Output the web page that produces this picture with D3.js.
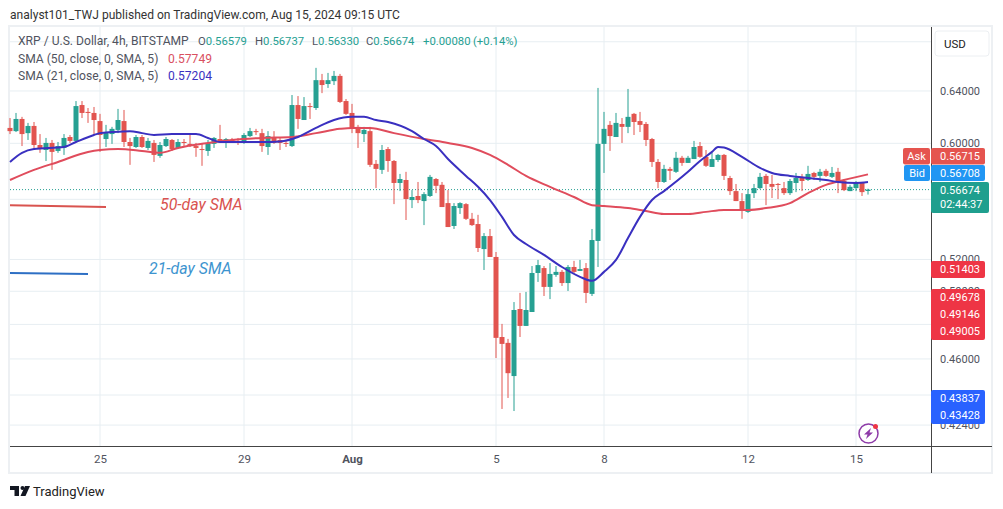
<!DOCTYPE html>
<html>
<head>
<meta charset="utf-8">
<title>XRP / U.S. Dollar</title>
<script src="https://cdn.jsdelivr.net/npm/d3@7"></script>
<style>
  html, body { margin: 0; background: #fff; }
  svg { display: block; }
  text { font-family: Roboto, "Liberation Sans", sans-serif; }
</style>
</head>
<body>
<div id="chart"></div>
<script>
// 4h candles, one every 4 hours from START
const START = new Date(Date.UTC(2024, 6, 22, 12));
const OPEN = [
  .6115,.6091,.6183,.6076,.6130,.5988,.5951,.6003,.5944,.5966,.6047,.6018,.6290,.6237,.6229,.6167,.6032,.6069,.6100,.6167,.6010,.5973,.6047,.5966,
  .6003,.5908,.5980,.6025,.5966,.6010,.5996,.5980,.5958,.5944,.5996,.6032,.6025,.6025,.6018,.6003,.6054,.6091,.6076,.5973,.6047,.6025,.6003,.5980,
  .6290,.6175,.6282,.6267,.6486,.6455,.6478,.6520,.6321,.6229,.6123,.6069,.6091,.5850,.5807,.5958,.5871,.5714,.5735,.5595,.5623,.5588,.5623,.5742,
  .5701,.5574,.5419,.5540,.5567,.5467,.5432,.5267,.5352,.5216,.4726,.4692,.4504,.4892,.4791,.4874,.5114,.5145,.5027,.5102,.5121,.5051,.5152,.5127,
  .5145,.4984,.5320,.5996,.6138,.6047,.6145,.6123,.6222,.6167,.6145,.6032,.5864,.5721,.5814,.5793,.5894,.5857,.5885,.5980,.5901,.5828,.5878,.5915,
  .5749,.5657,.5588,.5514,.5643,.5678,.5764,.5707,.5707,.5678,.5643,.5714,.5757,.5735,.5785,.5764,.5800,.5757,.5793,.5728,.5657,.5678,.5721,.56579
];
const HIGH = [
  .6190,.6229,.6199,.6153,.6160,.6069,.6040,.6025,.6010,.6069,.6062,.6321,.6321,.6267,.6275,.6222,.6138,.6123,.6260,.6252,.6040,.6062,.6062,.6040,
  .6025,.6010,.6047,.6032,.6032,.6032,.6062,.6003,.5996,.6025,.6047,.6138,.6040,.6040,.6040,.6076,.6115,.6108,.6108,.6091,.6091,.6040,.6025,.6368,
  .6360,.6352,.6306,.6585,.6536,.6544,.6560,.6536,.6337,.6299,.6138,.6123,.6123,.5878,.5988,.5973,.5878,.5778,.5793,.5664,.5721,.5650,.5771,.5749,
  .5721,.5664,.5574,.5580,.5574,.5507,.5494,.5372,.5399,.5248,.4803,.4715,.4934,.4990,.4996,.5158,.5197,.5158,.5177,.5158,.5133,.5164,.5191,.5197,
  .5177,.5399,.6424,.6237,.6167,.6229,.6190,.6416,.6229,.6237,.6160,.6040,.5885,.5843,.5828,.5937,.5908,.5908,.6018,.6010,.5951,.5930,.5922,.5922,
  .5764,.5707,.5643,.5671,.5707,.5785,.5778,.5771,.5714,.5721,.5742,.5785,.5778,.5836,.5793,.5814,.5814,.5828,.5821,.5742,.5701,.5728,.5721,.56737
];
const LOW = [
  .6069,.6084,.5980,.6025,.5966,.5930,.5871,.5807,.5930,.5915,.6003,.6010,.6190,.6153,.6062,.5937,.5973,.5996,.6076,.5973,.5843,.5966,.5966,.5951,
  .5864,.5894,.5973,.5944,.5958,.5973,.5973,.5901,.5836,.5908,.5966,.6010,.5966,.6003,.5988,.5996,.6047,.6062,.5937,.5915,.5996,.5951,.5973,.5973,
  .6108,.6175,.6183,.6252,.6383,.6424,.6447,.6306,.6214,.6076,.5966,.6010,.5828,.5678,.5778,.5793,.5567,.5657,.5459,.5540,.5574,.5425,.5616,.5643,
  .5547,.5412,.5399,.5500,.5459,.5419,.5248,.5133,.5216,.4605,.4325,.4384,.4314,.4726,.4791,.4874,.5058,.4971,.4952,.5090,.5033,.5002,.5114,.5127,
  .4928,.4971,.5152,.5785,.5944,.6047,.6003,.6076,.6062,.6084,.5980,.5828,.5678,.5714,.5735,.5785,.5836,.5857,.5885,.5894,.5828,.5828,.5864,.5735,
  .5630,.5588,.5467,.5507,.5609,.5671,.5560,.5609,.5602,.5630,.5630,.5650,.5657,.5728,.5735,.5721,.5757,.5749,.5643,.5657,.5657,.5657,.5623,.56330
];
const CLOSE = [
  .6091,.6183,.6069,.6130,.5988,.5958,.6003,.5937,.5980,.6040,.6018,.6282,.6229,.6229,.6175,.6062,.6084,.6108,.6175,.6010,.5980,.6047,.5973,.6018,
  .5915,.5988,.6032,.5958,.6010,.6003,.5988,.5966,.5951,.6003,.6040,.6010,.6032,.6018,.6010,.6062,.6091,.6084,.5980,.6054,.6003,.6003,.5996,.6290,
  .6183,.6282,.6275,.6486,.6447,.6486,.6520,.6314,.6222,.6115,.6076,.6100,.5843,.5814,.5951,.5871,.5714,.5742,.5602,.5616,.5595,.5636,.5757,.5694,
  .5547,.5412,.5554,.5574,.5467,.5425,.5274,.5352,.5216,.4721,.4686,.4520,.4886,.4791,.4886,.5114,.5164,.5027,.5108,.5121,.5051,.5152,.5121,.5139,
  .4990,.5326,.5996,.6108,.6054,.6153,.6123,.6199,.6160,.6138,.6025,.5864,.5721,.5814,.5800,.5894,.5857,.5894,.5973,.5901,.5836,.5885,.5915,.5764,
  .5657,.5588,.5520,.5636,.5678,.5757,.5707,.5687,.5701,.5643,.5728,.5749,.5728,.5778,.5757,.5793,.5764,.5785,.5721,.5664,.5687,.5721,.5650,.56674
];

// moving averages, read at these candle numbers
const SMA21_AT = [0,2,4,9,11,14,15,17,20,22,24,27,31,33,35,39,42,45,48,51,54,57,59,61,63,67,69,71,73,76,78,80,82,84,86,89,92,95,97,99,101,103,105,107,109,113,115,117,118,119,122,125,127,130,133,136,138,141,143];
const SMA21 = [.5864,.5930,.5958,.5973,.6010,.6062,.6076,.6084,.6091,.6076,.6062,.6069,.6069,.6040,.6010,.6010,.6010,.6014,.6047,.6115,.6175,.6199,.6199,.6175,.6160,.6091,.6032,.5980,.5885,.5764,.5687,.5595,.5480,.5359,.5300,.5229,.5152,.5090,.5065,.5121,.5197,.5339,.5480,.5595,.5657,.5793,.5871,.5937,.5973,.5969,.5901,.5821,.5785,.5764,.5749,.5735,.5721,.5714,.57204];
const SMA50_AT = [0,4,8,13,15,18,22,25,28,33,37,42,47,51,55,57,60,64,69,73,77,80,83,86,90,94,97,99,103,106,109,113,116,119,123,126,130,133,136,139,143];
const SMA50 = [.5735,.5807,.5864,.5937,.5951,.5958,.5944,.5930,.5966,.6003,.6025,.6040,.6047,.6076,.6108,.6115,.6115,.6076,.6032,.6003,.5966,.5915,.5843,.5764,.5687,.5616,.5560,.5554,.5540,.5520,.5500,.5500,.5514,.5527,.5527,.5540,.5574,.5643,.5701,.5735,.57749];

// the hand drawn key lines
const KEY50_AT = [0, 16], KEY50 = [.5560, .5547];
const KEY21_AT = [0, 13], KEY21 = [.5114, .5108];

const PRICE_TICKS = [.68, .64, .60, .56, .52, .50, .48, .46, .44, .424];
// the other tick labels sit fully behind the tags and the USD button
const PRICE_LABELS = [.64, .60, .52, .50, .46, .424];
const DATE_TICKS = [[2024,6,25,"25"],[2024,6,29,"29"],[2024,7,1,"Aug"],[2024,7,5,"5"],[2024,7,8,"8"],[2024,7,12,"12"],[2024,7,15,"15"]];

const ASK = "0.56715", BID = "0.56708", LAST = .56674, COUNTDOWN = "02:44:37";
const RED_TAGS = ["0.49678", "0.49146", "0.49005"];
const BLUE_TAGS = ["0.43837", "0.43428"];

const W = 1003, H = 509;
const TEAL = "#26a092", RED = "#e2544f", GRID = "#e7eef2", AXIS = "#444", INK = "#50535e";
const pane = { l: 10, r: 931, t: 27, b: 446 };

const svg = d3.select("#chart").append("svg").attr("width", W).attr("height", H);

const x = d3.scaleUtc()
  .domain([START, new Date(Date.UTC(2024, 7, 17, 2))])
  .range([pane.l, pane.r]);
const y = d3.scaleLog().domain([.4132, .6925]).range([pane.b, pane.t]);
const timeOf = i => d3.utcHour.offset(START, i * 4);
const tickDates = DATE_TICKS.map(d => new Date(Date.UTC(d[0], d[1], d[2])));

// outer frame
svg.append("rect").attr("x", 9).attr("y", 26).attr("width", 983).attr("height", 447)
  .attr("fill", "#fff").attr("stroke", "#edf0f3").attr("stroke-width", 2);

// grid
svg.append("g").selectAll("line").data(PRICE_TICKS).join("line")
  .attr("x1", pane.l).attr("x2", pane.r).attr("y1", d => y(d)).attr("y2", d => y(d))
  .attr("stroke", GRID);
svg.append("g").selectAll("line").data(tickDates).join("line")
  .attr("x1", d => x(d)).attr("x2", d => x(d)).attr("y1", pane.t).attr("y2", pane.b)
  .attr("stroke", GRID);

// axes
const yAxis = svg.append("g").attr("transform", `translate(${pane.r},0)`)
  .call(d3.axisRight(y).tickValues(PRICE_LABELS).tickFormat(d3.format(".5f")).tickSize(0).tickPadding(9));
yAxis.select(".domain").remove();
yAxis.selectAll("text").attr("font-size", 11).attr("font-family", "Roboto").attr("fill", INK);

const xAxis = svg.append("g").attr("transform", `translate(0,${pane.b})`)
  .call(d3.axisBottom(x).tickValues(tickDates).tickFormat((d, i) => DATE_TICKS[i][3]).tickSize(0).tickPadding(9));
xAxis.select(".domain").remove();
xAxis.selectAll("text").attr("font-size", 11.5).attr("font-family", "Roboto").attr("fill", INK)
  .attr("font-weight", (d, i) => DATE_TICKS[i][3] === "Aug" ? 700 : 400);

svg.append("line").attr("x1", pane.l).attr("x2", 992).attr("y1", pane.b + .5).attr("y2", pane.b + .5).attr("stroke", AXIS);
svg.append("line").attr("x1", pane.r + .5).attr("x2", pane.r + .5).attr("y1", pane.t).attr("y2", 473).attr("stroke", AXIS);

// last price line
svg.append("line").attr("x1", pane.l).attr("x2", pane.r)
  .attr("y1", y(LAST)).attr("y2", y(LAST))
  .attr("stroke", TEAL).attr("stroke-dasharray", "1 2");

// candles
const candles = svg.append("g").selectAll("g").data(OPEN).join("g")
  .attr("transform", (d, i) => `translate(${x(timeOf(i))},0)`);
candles.append("line")
  .attr("y1", (d, i) => y(HIGH[i])).attr("y2", (d, i) => y(LOW[i]))
  .attr("stroke", (d, i) => CLOSE[i] >= d ? TEAL : RED);
candles.append("rect").attr("x", -2.5).attr("width", 5)
  .attr("y", (d, i) => y(Math.max(d, CLOSE[i])))
  .attr("height", (d, i) => Math.max(1, Math.abs(y(d) - y(CLOSE[i]))))
  .attr("fill", (d, i) => CLOSE[i] >= d ? TEAL : RED);

// moving averages
const smaLine = at => d3.line().x((d, i) => x(timeOf(at[i]))).y(d => y(d)).curve(d3.curveMonotoneX);
svg.append("path").attr("d", smaLine(SMA50_AT)(SMA50)).attr("fill", "none").attr("stroke", "#e04c5c").attr("stroke-width", 2);
svg.append("path").attr("d", smaLine(SMA21_AT)(SMA21)).attr("fill", "none").attr("stroke", "#3a30c0").attr("stroke-width", 2);

// key lines and their hand written labels
svg.append("path").attr("d", smaLine(KEY50_AT)(KEY50)).attr("fill", "none").attr("stroke", "#d9534f").attr("stroke-width", 2);
svg.append("path").attr("d", smaLine(KEY21_AT)(KEY21)).attr("fill", "none").attr("stroke", "#2d6fc4").attr("stroke-width", 2);
svg.append("text").attr("x", 160).attr("y", 210).attr("font-size", 15.9).attr("font-style", "italic")
  .attr("fill", "#d9534f").text("50-day SMA");
svg.append("text").attr("x", 149).attr("y", 274).attr("font-size", 15.9).attr("font-style", "italic")
  .attr("fill", "#3d94cf").text("21-day SMA");

// top line
svg.append("text").attr("x", 10).attr("y", 19).attr("font-size", 12.05).attr("fill", "#333")
  .text("analyst101_TWJ published on TradingView.com, Aug 15, 2024 09:15 UTC");

// legend
const legend = svg.append("g").attr("font-size", 12.1).attr("fill", INK);
legend.append("text").attr("x", 18).attr("y", 45).text("XRP / U.S. Dollar, 4h, BITSTAMP");
[[198, "O", "0.56579"], [255, "H", "0.56737"], [312, "L", "0.56330"], [366, "C", "0.56674"], [423, "", "+0.00080"], [473, "", "(+0.14%)"]]
  .forEach(d => {
    const t = legend.append("text").attr("x", d[0]).attr("y", 45).attr("font-size", 11.3).text(d[1]);
    t.append("tspan").attr("fill", TEAL).text(d[2]);
  });
const smaLegend = (label, value, color, yPos) => {
  legend.append("text").attr("x", 18).attr("y", yPos).text(label);
  legend.append("text").attr("x", 168).attr("y", yPos).attr("fill", color).text(value);
};
smaLegend("SMA (50, close, 0, SMA, 5)", "0.57749", "#d9505f", 63);
smaLegend("SMA (21, close, 0, SMA, 5)", "0.57204", "#3a30c0", 80);

// currency button
svg.append("rect").attr("x", 935).attr("y", 31).attr("width", 54).attr("height", 25).attr("rx", 3)
  .attr("fill", "#fff").attr("stroke", "#eceff2");
svg.append("text").attr("x", 944).attr("y", 48).attr("font-size", 11.5).attr("fill", "#222").text("USD");

// price tags on the scale
function tag(x0, x1, y0, y1, fill) {
  svg.append("rect").attr("x", x0).attr("y", y0).attr("width", x1 - x0).attr("height", y1 - y0)
    .attr("rx", 2).attr("fill", fill);
}
function tagText(xp, yp, s, anchor) {
  svg.append("text").attr("x", xp).attr("y", yp).attr("dy", ".35em").attr("text-anchor", anchor || "start")
    .attr("font-size", 11).attr("fill", "#fff").text(s);
}
tag(903, 930, 148, 164.5, "#e5544f"); tagText(916.5, 156.5, "Ask", "middle");
tag(904, 930, 165, 181, "#2196f3"); tagText(917, 173, "Bid", "middle");
tag(931, 985, 148, 164.5, "#e5544f"); tagText(940, 156.5, ASK);
tag(931, 985, 165, 181, "#2196f3"); tagText(940, 173, BID);
tag(931, 989, 182, 213, "#1f9f8e"); tagText(940, 190.5, d3.format(".5f")(LAST)); tagText(940, 204, COUNTDOWN);
tag(931, 985, 261, 278, "#ee3545"); tagText(940, 269.5, "0.51403");
tag(931, 985, 289, 340, "#ee3545");
RED_TAGS.forEach((s, i) => tagText(940, 297.5 + i * 17, s));
tag(931, 985, 390, 424, "#2962ff");
BLUE_TAGS.forEach((s, i) => tagText(940, 398.5 + i * 17, s));

// lightning badge
const badge = svg.append("g").attr("transform", "translate(868.5,433.5)");
badge.append("circle").attr("r", 9.5).attr("fill", "#fff").attr("stroke", "#8e3ba8").attr("stroke-width", 1.5);
badge.append("path").attr("d", "M2.5,-5.5 L-4.5,1 L-1,1 L-2.5,5.5 L4.5,-1 L1,-1 Z").attr("fill", "#8e3ba8");
badge.append("circle").attr("cx", 7).attr("cy", -7).attr("r", 2.5).attr("fill", "#ee3545");

// TradingView logo
const logo = svg.append("g").attr("transform", "translate(10,486)").attr("fill", "#131722");
logo.append("path").attr("d", "M0,0 H9 V10 H4.5 V4 H0 Z");
logo.append("circle").attr("cx", 12.5).attr("cy", 2).attr("r", 2);
logo.append("path").attr("d", "M15,0 H20 L15.5,10 H10.5 Z");
svg.append("text").attr("x", 33).attr("y", 496).attr("font-size", 13).attr("fill", "#222").text("TradingView");
</script>
</body>
</html>
